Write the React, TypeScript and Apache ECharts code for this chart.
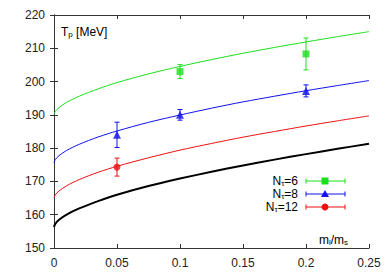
import React, { useEffect, useRef } from "react";
import * as echarts from "echarts";

const curveX = [0, 0.001, 0.004, 0.01, 0.02, 0.035, 0.05, 0.075, 0.1, 0.125, 0.15, 0.175, 0.2, 0.225, 0.25];
const curveNt6 = [190, 191.0, 192.2, 193.75, 195.6, 197.8, 199.7, 202.3, 204.55, 206.6, 208.5, 210.25, 211.9, 213.5, 215];
const curveNt8 = [175.6, 176.55, 177.75, 179.3, 181.15, 183.35, 185.15, 187.75, 189.95, 192.0, 193.9, 195.6, 197.25, 198.8, 200.3];
const curveNt12 = [165, 165.95, 167.15, 168.7, 170.55, 172.75, 174.55, 177.1, 179.4, 181.4, 183.3, 185.0, 186.65, 188.2, 189.7];
const curveCont = [156.3, 157.25, 158.5, 160.05, 161.9, 164.1, 166.0, 168.6, 170.85, 172.9, 174.8, 176.55, 178.2, 179.8, 181.3];

// [m_l/m_s, T_p, error]
const pointsNt6 = [[0.1, 203.0, 2.1], [0.2, 208.3, 4.8]];
const pointsNt8 = [[0.05, 184.0, 3.8], [0.1, 190.0, 1.6], [0.2, 197.2, 1.8]];
const pointsNt12 = [[0.05, 174.3, 2.7]];

const xTickLabels = ["0", "0.05", "0.1", "0.15", "0.2", "0.25"];
const yTickLabels = ["150", "160", "170", "180", "190", "200", "210", "220"];
const legendLabels = ["6", "8", "12"];

const GREEN = "#1be01b";
const BLUE = "#1010f0";
const RED = "#f01010";
const FONT = "Liberation Sans, Arial, sans-serif";

function zip(xs: number[], ys: number[]) {
  return xs.map((x, i) => [x, ys[i]]);
}

function errSeries(data: number[][], color: string) {
  return {
    type: "custom",
    data,
    z: 3,
    renderItem: (_p: any, api: any) => {
      const x = api.value(0);
      const y = api.value(1);
      const e = api.value(2);
      const t = api.coord([x, y + e]);
      const b = api.coord([x, y - e]);
      const w = 2.5;
      const style = { stroke: color, lineWidth: 1 };
      return {
        type: "group",
        children: [
          { type: "line", shape: { x1: t[0], y1: t[1], x2: b[0], y2: b[1] }, style },
          { type: "line", shape: { x1: t[0] - w, y1: t[1], x2: t[0] + w, y2: t[1] }, style },
          { type: "line", shape: { x1: b[0] - w, y1: b[1], x2: b[0] + w, y2: b[1] }, style },
        ],
      };
    },
  };
}

export default function App() {
  const ref = useRef<HTMLDivElement>(null);
  useEffect(() => {
    if (!ref.current) return;
    const chart = echarts.init(ref.current, undefined, { renderer: "svg" });
    const axisCommon = {
      type: "value",
      axisLine: { show: true, lineStyle: { color: "#333", width: 1 } },
      axisTick: { show: true, inside: true, length: 4, lineStyle: { color: "#333" } },
      splitLine: { show: false },
    };
    const lineSeries = (ys: number[], color: string, width: number) => ({
      type: "line",
      data: zip(curveX, ys),
      smooth: 0.3,
      showSymbol: false,
      lineStyle: { color, width },
      z: 2,
    });
    const rich = {
      n: { fontSize: 12, fontFamily: FONT, color: "#222", lineHeight: 12, verticalAlign: "middle" },
      s: { fontSize: 8, fontFamily: FONT, color: "#222", lineHeight: 4, verticalAlign: "bottom" },
    };
    const legendY = [181, 194, 207];
    const legendColors = [GREEN, BLUE, RED];
    const legendGraphics: any[] = [];
    legendLabels.forEach((lab, i) => {
      const y = legendY[i];
      const c = legendColors[i];
      legendGraphics.push({
        type: "text",
        x: 298,
        y,
        style: { text: `{n|N}{s|τ}{n|=${lab}}`, rich, align: "right", verticalAlign: "middle" },
      });
      legendGraphics.push({ type: "line", shape: { x1: 306, y1: y, x2: 345, y2: y }, style: { stroke: c, lineWidth: 1 } });
      legendGraphics.push({ type: "line", shape: { x1: 306, y1: y - 2.5, x2: 306, y2: y + 2.5 }, style: { stroke: c, lineWidth: 1 } });
      legendGraphics.push({ type: "line", shape: { x1: 345, y1: y - 2.5, x2: 345, y2: y + 2.5 }, style: { stroke: c, lineWidth: 1 } });
    });
    legendGraphics.push({ type: "rect", shape: { x: 321.5, y: legendY[0] - 3.5, width: 7, height: 7 }, style: { fill: GREEN } });
    legendGraphics.push({
      type: "polygon",
      shape: { points: [[325, legendY[1] - 4], [329, legendY[1] + 3], [321, legendY[1] + 3]] },
      style: { fill: BLUE },
    });
    legendGraphics.push({ type: "circle", shape: { cx: 325, cy: legendY[2], r: 3.5 }, style: { fill: RED } });

    chart.setOption({
      animation: false,
      grid: { left: 54, right: 23, top: 15, bottom: 26 },
      xAxis: [
        {
          ...axisCommon,
          min: 0,
          max: 0.25,
          interval: 0.05,
          position: "bottom",
          axisLabel: {
            show: true,
            margin: 9,
            fontSize: 12,
            fontFamily: FONT,
            color: "#222",
            formatter: (v: number) => xTickLabels[Math.round(v / 0.05)] ?? "",
          },
        },
        {
          ...axisCommon,
          min: 0,
          max: 0.25,
          interval: 0.05,
          position: "top",
          axisLabel: { show: false },
        },
      ],
      yAxis: [
        {
          ...axisCommon,
          min: 150,
          max: 220,
          interval: 10,
          position: "left",
          axisLabel: {
            show: true,
            margin: 9,
            fontSize: 12,
            fontFamily: FONT,
            color: "#222",
            formatter: (v: number) => yTickLabels[Math.round((v - 150) / 10)] ?? "",
          },
        },
        {
          ...axisCommon,
          min: 150,
          max: 220,
          interval: 10,
          position: "right",
          axisLabel: { show: false },
        },
      ],
      series: [
        lineSeries(curveNt6, GREEN, 1),
        lineSeries(curveNt8, BLUE, 1),
        lineSeries(curveNt12, RED, 1),
        lineSeries(curveCont, "#000", 2),
        errSeries(pointsNt6, GREEN),
        errSeries(pointsNt8, BLUE),
        errSeries(pointsNt12, RED),
        { type: "scatter", data: pointsNt6.map((p) => [p[0], p[1]]), symbol: "rect", symbolSize: 7, itemStyle: { color: GREEN }, z: 4 },
        { type: "scatter", data: pointsNt8.map((p) => [p[0], p[1]]), symbol: "triangle", symbolSize: 8, itemStyle: { color: BLUE }, z: 4 },
        { type: "scatter", data: pointsNt12.map((p) => [p[0], p[1]]), symbol: "circle", symbolSize: 7, itemStyle: { color: RED }, z: 4 },
      ],
      graphic: [
        {
          type: "text",
          x: 61,
          y: 32,
          style: { text: "{n|T}{s|p}{n| [MeV]}", rich, verticalAlign: "middle" },
        },
        {
          type: "text",
          x: 319,
          y: 240,
          style: { text: "{n|m}{s|l}{n|/m}{s|s}", rich, verticalAlign: "middle" },
        },
        ...legendGraphics,
      ],
    });
    return () => chart.dispose();
  }, []);
  return (
    <div
      ref={ref}
      style={{ position: "fixed", left: 0, top: 0, width: 392, height: 274, background: "#fff" }}
    />
  );
}
